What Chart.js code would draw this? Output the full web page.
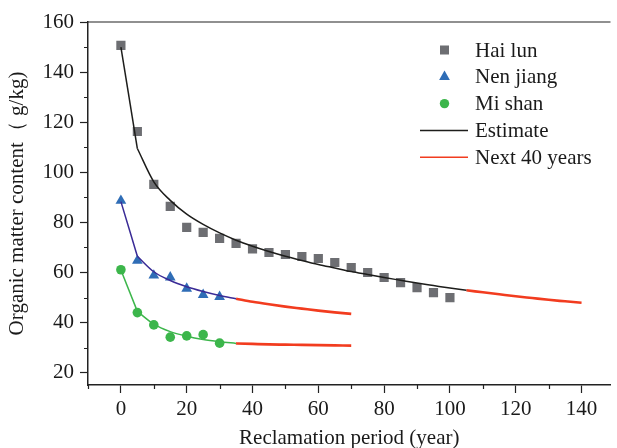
<!DOCTYPE html>
<html>
<head>
<meta charset="utf-8">
<script src="https://cdn.jsdelivr.net/npm/chart.js@4.4.1/dist/chart.umd.min.js"></script>
<style>
html,body{margin:0;padding:0;background:#fff;}
#wrap{width:617px;height:448px;position:relative;}
</style>
</head>
<body>
<div id="wrap"><canvas id="c" width="617" height="448"></canvas></div>
<script>
// ---- observed data ----
const yearsHai = [0,5,10,15,20,25,30,35,40,45,50,55,60,65,70,75,80,85,90,95,100];
const haiLun   = [150.7,116.3,95.2,86.4,78,76,73.6,71.6,69.4,68,67.2,66.4,65.6,64,62,60,58,56,54,52,50];
const yearsShort = [0,5,10,15,20,25,30];
const nenJiang = [88.7,64.7,58.8,58.1,53.6,51.1,50.3];
const miShan   = [61.1,44,39.1,34.2,34.7,35.2,31.8];

// ---- fitted estimate curves ----
// initial steep segment (0-5 years)
const startYears = [0,5];
const startHai = [150,109.5];
const startNen = [88.3,66.5];
const startMi  = [61,44.5];
// estimate after 5 years
const estYearsHai = [5,10,15,20,25,30,35,40,45,50,55,60,65,70,75,80,85,90,95,100,105];
const estHai      = [109.5,96.2,88.8,83.3,79.2,75.8,72.9,70.5,68.4,66.5,64.8,63.2,61.8,60.4,59.2,58,56.9,55.8,54.8,53.8,52.9];
const nextYearsHai = [105,110,115,120,125,130,135,140];
const nextHai      = [52.9,52.1,51.3,50.5,49.8,49.1,48.5,47.9];

const estYearsShort = [5,10,15,20,25,30,35];
const estNen = [66.5,60.3,56.8,54.3,52.4,50.8,49.5];
const estMi  = [44.5,39.4,36.4,34.6,33.3,32.4,31.7];
const nextYearsShort = [35,40,45,50,55,60,65,70];
const nextNen = [49.5,48.3,47.3,46.4,45.6,44.8,44.1,43.5];
const nextMi  = [31.7,31.5,31.3,31.2,31.1,31.0,30.9,30.8];

// ---- ticks ----
const xTicks = [0,20,40,60,80,100,120,140];
const xMinor = [-10,10,30,50,70,90,110,130];
const yTicks = [20,40,60,80,100,120,140,160];
const yMinor = [30,50,70,90,110,130,150];

const legendLabels = ['Hai lun','Nen jiang','Mi shan','Estimate','Next 40 years'];

const C_GRAY = '#6d6e72', C_BLUE = '#2f6db6', C_GREEN = '#3cb64b',
      C_BLACK = '#1d1d1b', C_PURPLE = '#3a2b96', C_RED = '#f23c1f', C_AXIS = '#222222';
const FONT = "'Liberation Serif','Times New Roman',serif";

const pts = (xs, ys) => xs.map((x, i) => ({x: x, y: ys[i]}));

function lineDs(xs, ys, color, width) {
  return {type:'line', data: pts(xs, ys), borderColor: color, backgroundColor: color,
          borderWidth: width, pointRadius: 0, showLine: true, fill: false,
          cubicInterpolationMode: 'monotone'};
}
function markDs(xs, ys, color, style, r) {
  return {type:'scatter', data: pts(xs, ys), backgroundColor: color, borderColor: color,
          borderWidth: 0, pointStyle: style, pointRadius: r, showLine: false};
}

const extras = {
  id: 'extras',
  afterDraw(chart) {
    const ctx = chart.ctx, ca = chart.chartArea;
    const xs = chart.scales.x, ys = chart.scales.y;
    ctx.save();
    ctx.strokeStyle = C_AXIS;
    ctx.lineWidth = 1.2;
    // top border
    ctx.beginPath();
    ctx.moveTo(ca.left, ca.top); ctx.lineTo(ca.right, ca.top);
    ctx.stroke();
    // minor ticks
    ctx.beginPath();
    xMinor.forEach(v => { const p = Math.round(xs.getPixelForValue(v)) + 0.5; ctx.moveTo(p, ca.bottom); ctx.lineTo(p, ca.bottom + 4); });
    yMinor.forEach(v => { const p = Math.round(ys.getPixelForValue(v)) + 0.5; ctx.moveTo(ca.left, p); ctx.lineTo(ca.left - 4, p); });
    ctx.stroke();
    // legend
    const lx = 444.5, tx = 475, y0 = 50, dy = 26.8;
    ctx.font = '21px ' + FONT;
    ctx.textBaseline = 'middle';
    ctx.textAlign = 'left';
    legendLabels.forEach((lab, i) => {
      ctx.fillStyle = '#1a1a1a';
      ctx.fillText(lab, tx, y0 + i * dy + 1);
    });
    let y = y0;
    ctx.fillStyle = C_GRAY; ctx.fillRect(lx - 4.5, y - 4.5, 9, 9);
    y = y0 + dy; ctx.fillStyle = C_BLUE; ctx.beginPath();
    const r = 6.2; ctx.moveTo(lx, y - r); ctx.lineTo(lx + r*0.866, y + r/2); ctx.lineTo(lx - r*0.866, y + r/2); ctx.closePath(); ctx.fill();
    y = y0 + 2*dy; ctx.fillStyle = C_GREEN; ctx.beginPath(); ctx.arc(lx, y, 4.7, 0, Math.PI*2); ctx.fill();
    y = y0 + 3*dy; ctx.strokeStyle = C_BLACK; ctx.lineWidth = 1.5; ctx.beginPath(); ctx.moveTo(420, y); ctx.lineTo(468, y); ctx.stroke();
    y = y0 + 4*dy; ctx.strokeStyle = C_RED; ctx.lineWidth = 1.5; ctx.beginPath(); ctx.moveTo(420, y); ctx.lineTo(468, y); ctx.stroke();
    ctx.restore();
  }
};

new Chart(document.getElementById('c'), {
  type: 'scatter',
  data: {
    datasets: [
      lineDs(startYears, startHai, C_BLACK, 1.5),
      lineDs(estYearsHai, estHai, C_BLACK, 1.5),
      lineDs(startYears, startNen, C_PURPLE, 1.5),
      lineDs(estYearsShort, estNen, C_PURPLE, 1.5),
      lineDs(startYears, startMi, C_GREEN, 1.5),
      lineDs(estYearsShort, estMi, C_GREEN, 1.5),
      lineDs(nextYearsHai, nextHai, C_RED, 2.6),
      lineDs(nextYearsShort, nextNen, C_RED, 2.6),
      lineDs(nextYearsShort, nextMi, C_RED, 2.6),
      markDs(yearsHai, haiLun, C_GRAY, 'rect', 6.5),
      markDs(yearsShort, nenJiang, C_BLUE, 'triangle', 6.2),
      markDs(yearsShort, miShan, C_GREEN, 'circle', 4.8)
    ]
  },
  options: {
    responsive: false,
    devicePixelRatio: 1,
    animation: false,
    layout: { padding: { top: 22, left: 4, right: 0, bottom: 0 } },
    plugins: { legend: { display: false }, tooltip: { enabled: false } },
    scales: {
      x: {
        type: 'linear', min: -10, max: 148.8,
        afterBuildTicks: s => { s.ticks = xTicks.map(v => ({value: v})); },
        afterFit: s => { s.height = 63; },
        ticks: { font: { family: FONT, size: 21 }, color: '#1a1a1a', padding: 4, maxRotation: 0, autoSkip: false },
        grid: { drawOnChartArea: false, drawTicks: true, tickLength: 8, tickColor: C_AXIS, tickWidth: 1.2 },
        border: { display: true, color: C_AXIS, width: 1.5 },
        title: { display: true, text: 'Reclamation period (year)', font: { family: FONT, size: 21 }, color: '#1a1a1a', padding: { top: 0, bottom: -3 } }
      },
      y: {
        type: 'linear', min: 15.1, max: 160,
        afterBuildTicks: s => { s.ticks = yTicks.map(v => ({value: v})); },
        afterFit: s => { s.width = 84; },
        ticks: { font: { family: FONT, size: 21 }, color: '#1a1a1a', padding: 6, autoSkip: false },
        grid: { drawOnChartArea: false, drawTicks: true, tickLength: 8, tickColor: C_AXIS, tickWidth: 1.2 },
        border: { display: true, color: C_AXIS, width: 1.5 },
        title: { display: true, text: 'Organic matter content（ g/kg)', font: { family: FONT, size: 21 }, color: '#1a1a1a', padding: { top: 1, bottom: 0 } }
      }
    }
  },
  plugins: [extras]
});
</script>
</body>
</html>
